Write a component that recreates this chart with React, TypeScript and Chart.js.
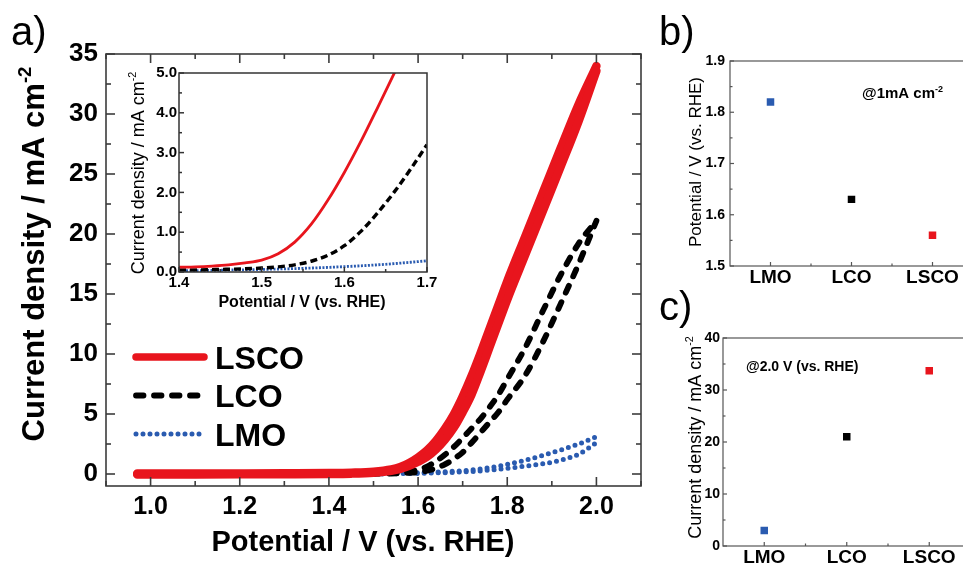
import React, { useEffect, useRef } from "react";
import { Chart, registerables } from "chart.js";
Chart.register(...registerables);

const FONT = "'Liberation Sans', Arial, Helvetica, sans-serif";
const RED = "#e8151d";
const BLACK = "#000000";
const BLUE = "#2a5bb0";

// ---------- Panel a: LSV curves (forward / reverse scans) ----------
const POTENTIAL = [0.97, 1.0, 1.1, 1.2, 1.3, 1.4, 1.45, 1.5, 1.54, 1.56, 1.58, 1.6, 1.62, 1.64, 1.66, 1.68, 1.7, 1.72, 1.74, 1.76, 1.78, 1.8, 1.84, 1.88, 1.92, 1.96, 2.0];
const LSCO_FWD = [-0.05, -0.05, -0.04, -0.03, -0.02, 0.0, 0.03, 0.11, 0.26, 0.42, 0.68, 1.02, 1.44, 2.05, 2.85, 3.85, 5.15, 6.63, 8.53, 10.53, 12.53, 14.53, 18.23, 21.93, 25.63, 29.4, 33.6];
const LSCO_REV = [0.05, 0.05, 0.05, 0.05, 0.06, 0.08, 0.11, 0.19, 0.38, 0.58, 0.92, 1.38, 1.96, 2.75, 3.75, 4.95, 6.45, 8.17, 10.07, 12.07, 14.07, 16.07, 19.77, 23.47, 27.17, 30.8, 34.0];
const LCO_FWD = [-0.03, -0.03, -0.03, -0.02, -0.02, -0.01, 0.0, 0.02, 0.04, 0.06, 0.1, 0.15, 0.28, 0.48, 0.8, 1.25, 1.8, 2.6, 3.45, 4.3, 5.15, 6.2, 8.2, 11.0, 14.2, 17.5, 21.1];
const LCO_REV = [0.0, 0.0, 0.0, 0.0, 0.0, 0.02, 0.03, 0.05, 0.08, 0.12, 0.22, 0.35, 0.62, 1.05, 1.6, 2.25, 3.0, 3.8, 4.6, 5.55, 6.6, 7.9, 10.5, 13.6, 16.6, 19.2, 21.1];
const LMO_FWD = [-0.02, -0.02, -0.02, -0.02, -0.01, -0.01, 0.0, 0.0, 0.02, 0.03, 0.04, 0.05, 0.07, 0.09, 0.11, 0.14, 0.17, 0.21, 0.26, 0.32, 0.4, 0.48, 0.65, 0.85, 1.15, 1.65, 2.6];
const LMO_REV = [0.0, 0.0, 0.0, 0.01, 0.01, 0.02, 0.03, 0.04, 0.06, 0.07, 0.09, 0.11, 0.13, 0.16, 0.19, 0.23, 0.28, 0.34, 0.42, 0.52, 0.65, 0.8, 1.15, 1.55, 2.0, 2.5, 3.1];
const MAIN_X_TICKS = [1.0, 1.2, 1.4, 1.6, 1.8, 2.0];
const MAIN_Y_TICKS = [0, 5, 10, 15, 20, 25, 30, 35];

// ---------- Inset ----------
const INSET_POTENTIAL = [1.4, 1.42, 1.44, 1.46, 1.48, 1.5, 1.52, 1.54, 1.56, 1.58, 1.6, 1.62, 1.64, 1.66, 1.68, 1.7];
const INSET_LSCO = [0.12, 0.13, 0.15, 0.18, 0.23, 0.3, 0.46, 0.75, 1.2, 1.8, 2.5, 3.28, 4.12, 4.98, 5.85, 6.7];
const INSET_LCO = [0.05, 0.05, 0.06, 0.07, 0.08, 0.1, 0.13, 0.18, 0.27, 0.42, 0.66, 1.02, 1.48, 2.0, 2.58, 3.2];
const INSET_LMO = [0.03, 0.035, 0.04, 0.05, 0.055, 0.065, 0.075, 0.085, 0.1, 0.115, 0.135, 0.155, 0.18, 0.21, 0.245, 0.28];
const INSET_X_TICKS = [1.4, 1.5, 1.6, 1.7];
const INSET_Y_TICKS = [0, 1, 2, 3, 4, 5];

// ---------- Panels b, c ----------
const MATERIALS = ["LMO", "LCO", "LSCO"];
const ONSET_POTENTIAL = [1.82, 1.63, 1.56];
const CURRENT_AT_2V = [3.0, 21.0, 33.7];
const B_Y_TICKS = [1.5, 1.6, 1.7, 1.8, 1.9];
const C_Y_TICKS = [0, 10, 20, 30, 40];
const MATERIAL_COLORS = [BLUE, BLACK, RED];

// ---------- plugins ----------
function collectTicks(scale: any, minorStep: number) {
  const out = scale.ticks.map((t: any) => ({ v: t.value, major: true }));
  if (minorStep) {
    const k0 = Math.ceil(scale.min / minorStep - 1e-6);
    const k1 = Math.floor(scale.max / minorStep + 1e-6);
    for (let k = k0; k <= k1; k++) {
      const v = k * minorStep;
      if (!out.some((t: any) => Math.abs(t.v - v) < minorStep * 1e-3)) out.push({ v, major: false });
    }
  }
  return out;
}

const frameTicks = {
  id: "frameTicks",
  afterDraw(chart: any, _a: any, o: any) {
    if (!o || !o.enabled) return;
    const { ctx, chartArea: a } = chart;
    const xs = chart.scales.x;
    const ys = chart.scales.y;
    ctx.save();
    ctx.strokeStyle = o.color;
    ctx.lineWidth = o.lineWidth;
    ctx.setLineDash([]);
    ctx.lineCap = "butt";
    ctx.strokeRect(a.left, a.top, a.right - a.left, a.bottom - a.top);
    const seg = (x1: number, y1: number, x2: number, y2: number) => {
      ctx.beginPath();
      ctx.moveTo(x1, y1);
      ctx.lineTo(x2, y2);
      ctx.stroke();
    };
    collectTicks(xs, o.xMinor).forEach((t: any) => {
      const p = xs.getPixelForValue(t.v);
      const L = t.major ? o.major : o.minor;
      seg(p, a.bottom, p, a.bottom - L);
      if (o.mirror) seg(p, a.top, p, a.top + L);
    });
    collectTicks(ys, o.yMinor).forEach((t: any) => {
      const p = ys.getPixelForValue(t.v);
      const L = t.major ? o.major : o.minor;
      seg(a.left, p, a.left + L, p);
      if (o.mirror) seg(a.right, p, a.right - L, p);
    });
    ctx.restore();
  },
};

const sketchLegend = {
  id: "sketchLegend",
  afterDatasetsDraw(chart: any, _a: any, o: any) {
    if (!o || !o.items) return;
    const ctx = chart.ctx;
    ctx.save();
    o.items.forEach((idx: number, i: number) => {
      const ds = chart.data.datasets[idx];
      const y = o.y + i * o.spacing;
      ctx.beginPath();
      ctx.strokeStyle = ds.borderColor;
      ctx.lineWidth = o.widths ? o.widths[i] : ds.borderWidth;
      ctx.setLineDash(ds.borderDash || []);
      ctx.lineCap = ds.borderCapStyle || "butt";
      ctx.moveTo(o.x1, y);
      ctx.lineTo(o.x2, y);
      ctx.stroke();
      ctx.setLineDash([]);
      ctx.fillStyle = "#000";
      ctx.font = `bold ${o.size}px ${FONT}`;
      ctx.textBaseline = "alphabetic";
      ctx.textAlign = "left";
      ctx.fillText(ds.label, o.textX, y + o.size * 0.36);
    });
    ctx.restore();
  },
};

function drawRich(ctx: any, it: any) {
  const size = it.size;
  const weight = it.weight || "normal";
  ctx.save();
  ctx.translate(it.x, it.y);
  ctx.rotate(it.rotation || 0);
  ctx.fillStyle = "#000";
  ctx.textBaseline = "alphabetic";
  ctx.textAlign = "left";
  const fontFor = (sup: boolean) => `${weight} ${sup ? size * 0.6 : size}px ${FONT}`;
  let total = 0;
  it.parts.forEach((p: any) => {
    ctx.font = fontFor(!!p.sup);
    total += ctx.measureText(p.text).width;
  });
  let cx = it.align === "left" ? 0 : -total / 2;
  const base = size * 0.36;
  it.parts.forEach((p: any) => {
    ctx.font = fontFor(!!p.sup);
    ctx.fillText(p.text, cx, p.sup ? base - size * 0.42 : base);
    cx += ctx.measureText(p.text).width;
  });
  ctx.restore();
}

const richText = {
  id: "richText",
  afterDraw(chart: any, _a: any, o: any) {
    if (!o || !o.items) return;
    o.items.forEach((it: any) => drawRich(chart.ctx, it));
  },
};

const PLUGINS = [frameTicks, sketchLegend, richText];

function linearAxis(min: number, max: number, ticks: number[], fit: (s: any) => void, fontSize: number, pad: number, decimals: number) {
  return {
    type: "linear",
    min,
    max,
    afterBuildTicks: (s: any) => {
      s.ticks = ticks.map((value) => ({ value }));
    },
    afterFit: fit,
    grid: { display: false, drawTicks: false },
    border: { display: false },
    ticks: {
      autoSkip: false,
      maxRotation: 0,
      padding: pad,
      color: "#000",
      font: { family: FONT, size: fontSize, weight: "bold" },
      callback: (v: any) => Number(v).toFixed(decimals),
    },
  };
}

const baseOptions = (padding: any) => ({
  animation: false,
  responsive: false,
  devicePixelRatio: 1,
  layout: { padding },
  events: [],
});

function mainConfig() {
  const ds = (label: string, ys: number[], color: string, width: number, dash: number[]) => ({
    label,
    data: POTENTIAL.map((x, i) => ({ x, y: ys[i] })),
    borderColor: color,
    backgroundColor: color,
    borderWidth: width,
    borderDash: dash,
    borderCapStyle: "round",
    borderJoinStyle: "round",
    pointRadius: 0,
    cubicInterpolationMode: "monotone",
    fill: false,
  });
  return {
    type: "line",
    data: {
      datasets: [
        ds("LSCO", LSCO_FWD, RED, 8.5, []),
        ds("LSCO", LSCO_REV, RED, 8.5, []),
        ds("LCO", LCO_FWD, BLACK, 5.8, [7.5, 10.5]),
        ds("LCO", LCO_REV, BLACK, 5.8, [7.5, 10.5]),
        ds("LMO", LMO_FWD, BLUE, 5, [0, 7]),
        ds("LMO", LMO_REV, BLUE, 5, [0, 7]),
      ],
    },
    options: {
      ...baseOptions({ left: 0, top: 54, right: 9, bottom: 0 }),
      scales: {
        x: linearAxis(0.9, 2.1, MAIN_X_TICKS, (s) => { s.height = 77; }, 25, 6, 1),
        y: linearAxis(-1, 35, MAIN_Y_TICKS, (s) => { s.width = 106; }, 26, 8, 0),
      },
      plugins: {
        legend: { display: false },
        tooltip: { enabled: false },
        frameTicks: { enabled: true, color: "#3c3c3c", lineWidth: 1.6, major: 9, minor: 5, xMinor: 0.1, yMinor: 2.5, mirror: true },
        sketchLegend: { items: [0, 2, 4], widths: [7.5, 5.8, 5], x1: 136, x2: 204, textX: 215, y: 357, spacing: 38.5, size: 32 },
        richText: {
          items: [
            { parts: [{ text: "Current density / mA cm" }, { text: "-2", sup: true }], x: 33, y: 254, size: 31, weight: "bold", rotation: -Math.PI / 2 },
            { parts: [{ text: "Potential / V (vs. RHE)" }], x: 363, y: 541, size: 29, weight: "bold" },
          ],
        },
      },
    },
    plugins: PLUGINS,
  };
}

function insetConfig() {
  const ds = (label: string, ys: number[], color: string, width: number, dash: number[]) => ({
    label,
    data: INSET_POTENTIAL.map((x, i) => ({ x, y: ys[i] })),
    borderColor: color,
    backgroundColor: color,
    borderWidth: width,
    borderDash: dash,
    borderCapStyle: "butt",
    pointRadius: 0,
    cubicInterpolationMode: "monotone",
    fill: false,
  });
  return {
    type: "line",
    data: {
      datasets: [
        ds("LSCO", INSET_LSCO, RED, 2.8, []),
        ds("LCO", INSET_LCO, BLACK, 3.4, [7, 4]),
        ds("LMO", INSET_LMO, BLUE, 2.8, [2, 1.5]),
      ],
    },
    options: {
      ...baseOptions({ left: 0, top: 13, right: 13, bottom: 0 }),
      scales: {
        x: linearAxis(1.4, 1.7, INSET_X_TICKS, (s) => { s.height = 48; }, 15, 2, 1),
        y: linearAxis(0, 5, INSET_Y_TICKS, (s) => { s.width = 59; }, 15, 2, 1),
      },
      plugins: {
        legend: { display: false },
        tooltip: { enabled: false },
        frameTicks: { enabled: true, color: "#333", lineWidth: 1.5, major: 5, minor: 3, xMinor: 0.05, yMinor: 0.5, mirror: false },
        richText: {
          items: [
            { parts: [{ text: "Current density / mA cm" }, { text: "-2", sup: true }], x: 17.5, y: 113, size: 18, weight: "normal", rotation: -Math.PI / 2 },
            { parts: [{ text: "Potential / V (vs. RHE)" }], x: 182, y: 241.5, size: 16, weight: "bold" },
          ],
        },
      },
    },
    plugins: PLUGINS,
  };
}

function pointConfig(values: number[], min: number, max: number, ticks: number[], minor: number, decimals: number, layout: any, yWidth: number, xHeight: number, xPad: number, yPad: number, titles: any[]) {
  return {
    type: "line",
    data: {
      labels: MATERIALS,
      datasets: [
        {
          label: "value",
          data: values,
          showLine: false,
          pointStyle: "rect",
          pointRadius: 5.3,
          pointBorderWidth: 0,
          pointBackgroundColor: MATERIAL_COLORS,
          pointBorderColor: MATERIAL_COLORS,
        },
      ],
    },
    options: {
      ...baseOptions(layout),
      scales: {
        x: {
          type: "category",
          offset: true,
          afterFit: (s: any) => { s.height = xHeight; },
          grid: { display: false, drawTicks: false },
          border: { display: false },
          ticks: { autoSkip: false, maxRotation: 0, padding: xPad, color: "#000", font: { family: FONT, size: 19, weight: "bold" } },
        },
        y: linearAxis(min, max, ticks, (s) => { s.width = yWidth; }, 14, yPad, decimals),
      },
      plugins: {
        legend: { display: false },
        tooltip: { enabled: false },
        frameTicks: { enabled: true, color: "#555", lineWidth: 1.2, major: 4, minor: 2.5, xMinor: 0.5, yMinor: minor, mirror: false },
        richText: { items: titles },
      },
    },
    plugins: PLUGINS,
  };
}

function ChartCanvas({ left, top, width, height, build }: any) {
  const ref = useRef<HTMLCanvasElement | null>(null);
  useEffect(() => {
    const chart = new Chart(ref.current as any, build());
    return () => chart.destroy();
  }, []);
  return (
    <canvas
      ref={ref}
      width={width}
      height={height}
      style={{ position: "absolute", left, top, width, height, display: "block" }}
    />
  );
}

const labelStyle = (left: number, top: number): any => ({
  position: "absolute",
  left,
  top,
  fontFamily: FONT,
  fontSize: 40,
  lineHeight: "40px",
  color: "#000",
  margin: 0,
});

export default function App() {
  return (
    <div style={{ position: "fixed", left: 0, top: 0, width: 963, height: 563, overflow: "hidden", background: "#fff" }}>
      <ChartCanvas left={0} top={0} width={650} height={563} build={mainConfig} />
      <ChartCanvas left={120} top={60} width={320} height={260} build={insetConfig} />
      <ChartCanvas
        left={640}
        top={0}
        width={345}
        height={300}
        build={() =>
          pointConfig(ONSET_POTENTIAL, 1.5, 1.9, B_Y_TICKS, 0.05, 1, { left: 0, top: 61, right: 12, bottom: 0 }, 90, 34, 0, 5, [
            { parts: [{ text: "Potential / V (vs. RHE)" }], x: 55, y: 162, size: 17, weight: "normal", rotation: -Math.PI / 2 },
            { parts: [{ text: "@1mA cm" }, { text: "-2", sup: true }], x: 222, y: 92.5, size: 15, weight: "bold", align: "left" },
          ])
        }
      />
      <ChartCanvas
        left={640}
        top={290}
        width={345}
        height={300}
        build={() =>
          pointConfig(CURRENT_AT_2V, 0, 40, C_Y_TICKS, 5, 0, { left: 0, top: 48, right: 14.5, bottom: 0 }, 83, 44, 0, 3, [
            { parts: [{ text: "Current density / mA cm" }, { text: "-2", sup: true }], x: 54.5, y: 147.5, size: 18, weight: "normal", rotation: -Math.PI / 2 },
            { parts: [{ text: "@2.0 V (vs. RHE)" }], x: 106, y: 76, size: 14, weight: "bold", align: "left" },
          ])
        }
      />
      <div style={labelStyle(11, 11)}>a)</div>
      <div style={labelStyle(659, 11)}>b)</div>
      <div style={labelStyle(659, 286)}>c)</div>
    </div>
  );
}
